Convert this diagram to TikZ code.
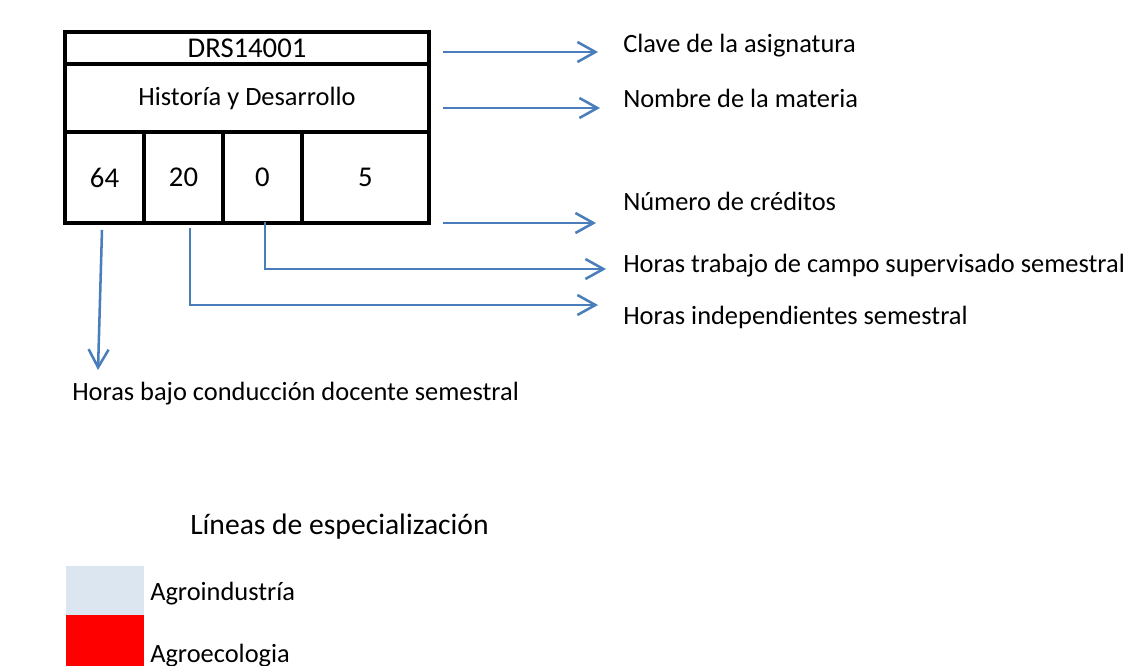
\documentclass[tikz,border=0pt]{standalone}
\usepackage{fontspec}
\setmainfont{Carlito}
\usetikzlibrary{arrows.meta}
\definecolor{arrblue}{HTML}{4A7EBB}
\definecolor{legblue}{HTML}{DCE6F1}
\tikzset{
  px/.style={x=0.75pt,y=-0.75pt},
  cell/.style={draw=black,line width=2.4pt,inner sep=0pt,font=\fontsize{19.8}{24}\selectfont},
  bigcell/.style={cell,font=\fontsize{21.5}{26}\selectfont},
  lbl/.style={anchor=base west,inner sep=0pt,font=\fontsize{19.8}{24}\selectfont},
  conn/.style={draw=arrblue,line width=1.9pt,-{Straight Barb[length=13.5pt,width=15pt,line width=1.9pt]}},
}
\begin{document}
\begin{tikzpicture}[px]
\useasboundingbox (0,0) rectangle (1127,666);
\clip (0,0) rectangle (1127,666);
% box cells
\node[bigcell,minimum width=364*0.75pt,minimum height=32*0.75pt] (code) at (247,48) {DRS14001};
\node[cell,minimum width=364*0.75pt,minimum height=68*0.75pt] (name) at (247,98) {Historía y Desarrollo};
\node[bigcell,minimum width=79*0.75pt,minimum height=91*0.75pt] (c64) at (104.5,177.5) {64};
\node[bigcell,minimum width=79*0.75pt,minimum height=91*0.75pt] (c20) at (183.5,177.5) {20};
\node[bigcell,minimum width=79*0.75pt,minimum height=91*0.75pt] (c0) at (262.5,177.5) {0};
\node[bigcell,minimum width=127*0.75pt,minimum height=91*0.75pt] (c5) at (365.5,177.5) {5};
% labels
\node[lbl] (lclave) at (623,53) {Clave de la asignatura};
\node[lbl] (lnombre) at (623,108) {Nombre de la materia};
\node[lbl] (lnum) at (623,211) {Número de créditos};
\node[lbl] (ltrab) at (623,273) {Horas trabajo de campo supervisado semestral};
\node[lbl] (lindep) at (623,325) {Horas independientes semestral};
\node[lbl] (lbajo) at (72,400) {Horas bajo conducción docente semestral};
% coordinates for connectors
\coordinate (a1s) at (443,52);  \coordinate (a1e) at (598,52);
\coordinate (a2s) at (443,108); \coordinate (a2e) at (600,108);
\coordinate (a3s) at (443,223); \coordinate (a3e) at (596,223);
\coordinate (a4s) at (265,222); \coordinate (a4e) at (606,269);
\coordinate (a5s) at (190,228); \coordinate (a5e) at (598,305);
\coordinate (a6s) at (102,230); \coordinate (a6e) at (98,370);
\draw[conn] (a1s) -- (a1e);
\draw[conn] (a2s) -- (a2e);
\draw[conn] (a3s) -- (a3e);
\draw[conn] (a4s) |- (a4e);
\draw[conn] (a5s) |- (a5e);
\draw[conn] (a6s) -- (a6e);
% legend
\node[lbl,font=\fontsize{22.2}{27}\selectfont] (ltitle) at (190,534) {Líneas de especialización};
\fill[legblue] (66,566) rectangle (144,615);
\fill[red] (66,615) rectangle (144,667);
\node[lbl] (lagro1) at (150,600) {Agroindustría};
\node[lbl] (lagro2) at (150,662) {Agroecologia};
\end{tikzpicture}
\end{document}
